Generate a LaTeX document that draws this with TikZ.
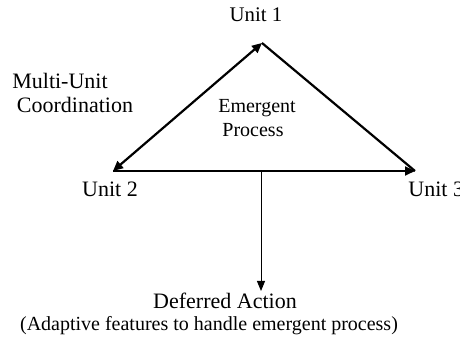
\documentclass[tikz,border=0pt]{standalone}
\usepackage{fontspec}
\setmainfont{Liberation Serif}
\usetikzlibrary{arrows.meta}
\begin{document}
\begin{tikzpicture}[x=0.5pt,y=-0.5pt,
  lbl/.style={inner sep=0pt,anchor=base,font=\fontsize{11}{13}\selectfont},
  small/.style={font=\fontsize{10}{12}\selectfont},
  mid/.style={font=\fontsize{10.4}{12}\selectfont},
  head/.style={-{Triangle[length=5pt,width=4.5pt]}},
  thick line/.style={line width=1.1pt},
  thin arrow/.style={line width=0.5pt,-{Triangle[length=5pt,width=4pt]}}]
\useasboundingbox (0,0) rectangle (460,340);
\coordinate (u1) at (262,43);
\coordinate (u2) at (113,171);
\coordinate (u3) at (415,171);
\coordinate (m) at (261,171);
\coordinate (dend) at (261,291);
\draw[thick line,{Triangle[length=5pt,width=4.5pt]}-{Triangle[length=5pt,width=4.5pt]}] (u2) -- (u1);
\draw[thick line] (u1) -- (u3);
\draw[thick line,head] (u2) -- (u3);
\draw[thin arrow] (m) -- (dend);
\node[lbl,mid] (t1) at (256,21.5) {Unit 1};
\node[lbl] (t2) at (110,197) {Unit 2};
\node[lbl,anchor=base west] (t3) at (408,197) {Unit 3};
\node[lbl,small] (em) at (257,113) {Emergent};
\node[lbl,small] (pr) at (253,137) {Process};
\node[lbl] (mu) at (60,89) {Multi-Unit};
\node[lbl] (co) at (75,113) {Coordination};
\node[lbl] (da) at (225,309) {Deferred Action};
\node[lbl,small] (af) at (209,331) {(Adaptive features to handle emergent process)};
\end{tikzpicture}
\end{document}
